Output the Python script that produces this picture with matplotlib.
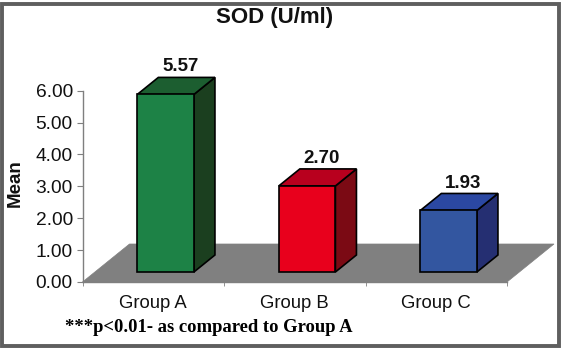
import matplotlib
matplotlib.use("Agg")
import matplotlib.pyplot as plt
from matplotlib.patches import Polygon, Rectangle

# ---- data ----
groups = ["Group A", "Group B", "Group C"]
values = [5.57, 2.70, 1.93]
yticks = [0, 1, 2, 3, 4, 5, 6]
title = "SOD (U/ml)"
ylabel = "Mean"
footnote = "***p<0.01- as compared to Group A"

front_colors = ["#1d8246", "#e8001c", "#3356a0"]
side_colors = ["#1b3f1f", "#7b0a14", "#252f72"]
top_colors = ["#1c5e30", "#b8001e", "#2b48a2"]

W, H = 562, 348
fig = plt.figure(figsize=(W / 100, H / 100), dpi=100)
plt.rcParams['font.family'] = ['Liberation Sans', 'DejaVu Sans']

# axes placed so x-axis runs 82..507 px and y 0..6 maps 282..90.7 px
x0p, x1p = 82.5, 507
y0p, y6p = 282, 90.7
ax = fig.add_axes([x0p / W, (H - y0p) / H, (x1p - x0p) / W, (y0p - y6p) / H])
n = len(groups)
ax.set_xlim(-0.5, n - 0.5)
ax.set_ylim(0, 6)

px_per_x = (x1p - x0p) / n
px_per_y = (y0p - y6p) / 6
ddx = 47 / px_per_x   # floor depth in data units
ddy = 38 / px_per_y
f0, f1 = 10 / 38, 27 / 38
bw = 0.4

# floor
floor = Polygon([(-0.5, 0), (n - 0.5, 0), (n - 0.5 + ddx, ddy), (-0.5 + ddx, ddy)],
                closed=True, facecolor="#808080", edgecolor="#808080", lw=0.5,
                clip_on=False, zorder=1)
ax.add_patch(floor)

bdx = (f1 - f0) * ddx
bdy = (f1 - f0) * ddy
for i, v in enumerate(values):
    xl = i - bw / 2 + f0 * ddx
    xr = i + bw / 2 + f0 * ddx
    yb = f0 * ddy
    yt = yb + v
    side = Polygon([(xr, yb), (xr + bdx, yb + bdy), (xr + bdx, yt + bdy), (xr, yt)],
                   closed=True, facecolor=side_colors[i], edgecolor="black", lw=1.2,
                   clip_on=False, zorder=3)
    top = Polygon([(xl, yt), (xr, yt), (xr + bdx, yt + bdy), (xl + bdx, yt + bdy)],
                  closed=True, facecolor=top_colors[i], edgecolor="black", lw=1.2,
                  clip_on=False, zorder=3)
    front = Rectangle((xl, yb), xr - xl, v, facecolor=front_colors[i],
                      edgecolor="black", lw=1.2, clip_on=False, zorder=4)
    ax.add_patch(side)
    ax.add_patch(top)
    ax.add_patch(front)
    ax.annotate(f"{v:.2f}", xy=((xl + xr) / 2 + bdx / 2, yt + bdy),
                xytext=(3, 7.5), textcoords="offset points", ha="center", va="center",
                fontsize=13.5, fontweight="bold", color="#111111",
                annotation_clip=False, zorder=5)

# axes styling
for s in ["top", "right"]:
    ax.spines[s].set_visible(False)
for s in ["left", "bottom"]:
    ax.spines[s].set_color("#7f7f7f")
    ax.spines[s].set_linewidth(1)
ax.spines["left"].set_zorder(0.5)
ax.set_yticks(yticks)
ax.set_yticklabels([f"{t:.2f}" for t in yticks], fontsize=13.8, color="#111111")
ax.tick_params(axis="y", length=4, color="#7f7f7f", pad=3)
ax.set_xticks(range(n))
ax.set_xticklabels(groups, fontsize=13.3, color="#111111")
ax.tick_params(axis="x", which="major", length=0, pad=9)
ax.set_xticks([i - 0.5 for i in range(n + 1)], minor=True)
ax.tick_params(axis="x", which="minor", length=3, color="#7f7f7f")
ax.patch.set_alpha(0)

fig.text(15 / W, (H - 183) / H, ylabel, rotation=90, ha="center", va="center",
         fontsize=13.5, fontweight="bold", color="#111111")
fig.text(275 / W, (H - 17) / H, title, ha="center", va="center",
         fontsize=16, fontweight="bold", color="#111111")
fig.text(65 / W, (H - 327) / H, footnote, ha="left", va="center",
         fontsize=13.4, fontweight="bold", family=["Liberation Serif", "DejaVu Serif"],
         color="black")

# figure frame
fig.patches.append(Rectangle((1.5 / W, 2.5 / H), (W - 5) / W, (H - 6) / H,
                             transform=fig.transFigure, fill=False,
                             edgecolor="#5f5f5f", lw=2.8))

fig.savefig("out.png", dpi=100)
